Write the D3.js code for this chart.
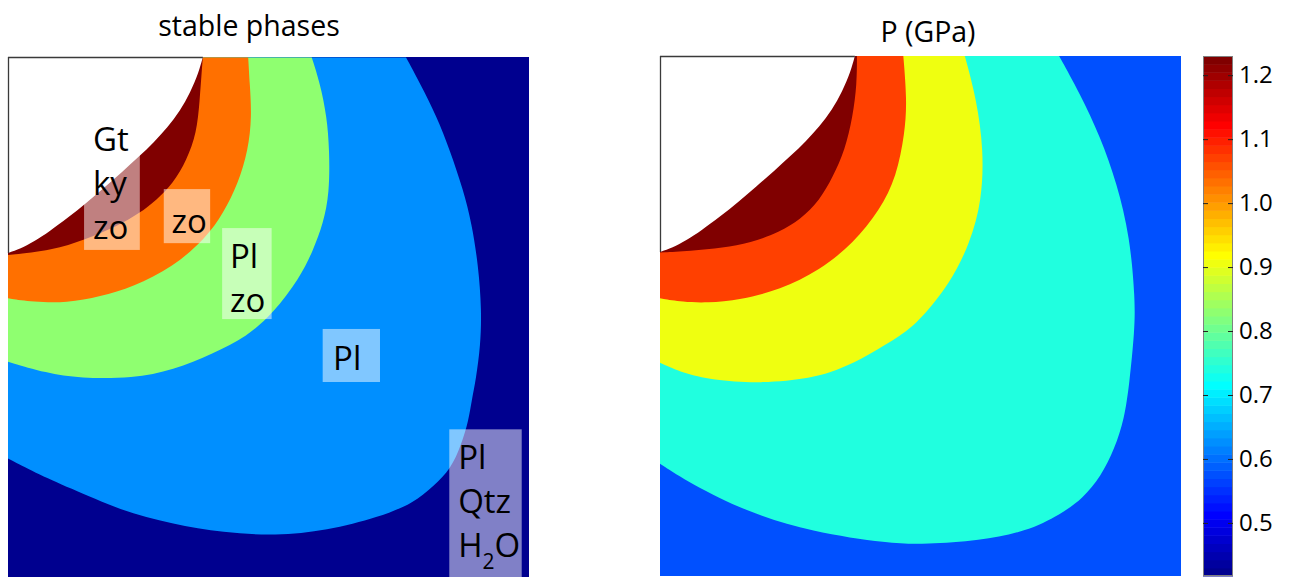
<!DOCTYPE html>
<html><head><meta charset="utf-8">
<script src="https://cdn.jsdelivr.net/npm/d3@7"></script>
<style>
body{margin:0;background:#fff;}
svg{display:block;font-family:"Open Sans","Noto Sans",sans-serif;}
</style>
</head><body>
<svg id="chart" width="1291" height="577"></svg>
<script>
// ---------- DATA (normalised plate coordinates: x to the right, y downward from the top edge, 0..1) ----------
const holeBoundary = [[0.374,0],[0.366,0.030],[0.350,0.068],[0.330,0.104],[0.306,0.136],[0.280,0.164],[0.252,0.191],[0.219,0.221],[0.185,0.251],[0.150,0.281],[0.115,0.309],[0.080,0.335],[0.050,0.355],[0.024,0.369],[0,0.377]];

// stable phases, listed from the outermost to the innermost
const phaseNames  = ["Pl Qtz H2O","Pl","Pl zo","zo","Gt ky zo"];
const phaseColors = ["#00008f","#008fff","#8fff70","#ff7000","#800000"];
// outer boundary of phases 1..4 (the region between the boundary and the hole)
const boundaryPl = [[0.764,0.001],[0.791,0.051],[0.823,0.115],[0.848,0.179],[0.874,0.256],[0.890,0.320],[0.903,0.403],[0.909,0.487],[0.907,0.554],[0.898,0.621],[0.890,0.660],[0.884,0.699],[0.870,0.746],[0.850,0.792],[0.817,0.825],[0.778,0.858],[0.712,0.885],[0.612,0.911],[0.513,0.921],[0.414,0.915],[0.315,0.898],[0.216,0.872],[0.117,0.828],[0.051,0.799],[0,0.772]];
const boundaryPlZo = [[0.583,0.001],[0.599,0.051],[0.612,0.115],[0.617,0.179],[0.617,0.262],[0.605,0.320],[0.586,0.371],[0.560,0.425],[0.509,0.493],[0.458,0.538],[0.394,0.570],[0.317,0.602],[0.240,0.618],[0.138,0.618],[0.074,0.608],[0,0.586]];
const boundaryZo = [[0.461,0.001],[0.464,0.051],[0.468,0.115],[0.461,0.179],[0.442,0.243],[0.413,0.301],[0.380,0.348],[0.317,0.404],[0.240,0.442],[0.177,0.461],[0.113,0.473],[0.048,0.471],[0,0.464]];
const boundaryGtKyZo = [[0.374,0],[0.372,0.025],[0.368,0.083],[0.362,0.147],[0.343,0.198],[0.317,0.243],[0.285,0.275],[0.253,0.300],[0.209,0.326],[0.145,0.352],[0.087,0.371],[0,0.381]];
const phaseBoundaries = [boundaryPl, boundaryPlZo, boundaryZo, boundaryGtKyZo];

// pressure bands (GPa), outermost to innermost
const pressureBandValues = [0.58, 0.74, 0.91, 1.07, 1.22];
const pBoundary074 = [[0.766,0],[0.806,0.072],[0.845,0.155],[0.877,0.245],[0.902,0.348],[0.912,0.469],[0.911,0.527],[0.901,0.630],[0.891,0.699],[0.873,0.754],[0.846,0.809],[0.812,0.850],[0.770,0.881],[0.702,0.915],[0.613,0.932],[0.510,0.939],[0.441,0.938],[0.290,0.915],[0.167,0.877],[0.058,0.822],[0,0.784]];
const pBoundary091 = [[0.585,0],[0.608,0.085],[0.621,0.181],[0.618,0.277],[0.595,0.360],[0.557,0.437],[0.499,0.508],[0.464,0.537],[0.400,0.575],[0.345,0.603],[0.291,0.620],[0.194,0.630],[0.099,0.623],[0.044,0.610],[0,0.590]];
const pBoundary107 = [[0.467,0],[0.474,0.085],[0.470,0.148],[0.454,0.232],[0.422,0.296],[0.371,0.360],[0.307,0.412],[0.230,0.450],[0.154,0.469],[0.090,0.475],[0.044,0.473],[0,0.466]];
const pBoundary122 = [[0.378,0],[0.378,0.053],[0.370,0.117],[0.355,0.181],[0.332,0.232],[0.307,0.277],[0.269,0.315],[0.230,0.338],[0.173,0.360],[0.121,0.369],[0.058,0.375],[0,0.378]];
const pressureBoundaries = [pBoundary074, pBoundary091, pBoundary107, pBoundary122];

const colorbarDomain = [0.417, 1.23];
const colorbarTicks  = [0.5, 0.6, 0.7, 0.8, 0.9, 1.0, 1.1, 1.2];

const titles = ["stable phases", "P (GPa)"];

// phase labels (anchor in plate coordinates)
const phaseLabels = [
  {lines:["Gt","ky","zo"],      tx:0.163, ty:0.181, box:[0.146,0.110,0.253,0.371]},
  {lines:["zo"],                tx:0.314, ty:0.338, box:[0.299,0.254,0.388,0.358]},
  {lines:["Pl","zo"],           tx:0.426, ty:0.406, box:[0.411,0.329,0.506,0.504]},
  {lines:["Pl"],                tx:0.624, ty:0.602, box:[0.604,0.523,0.714,0.625]},
  {lines:["Pl","Qtz","H_2O"],   tx:0.864, ty:0.792, box:[0.847,0.716,0.986,1.0]}
];

// ---------- DRAWING ----------
const svg = d3.select("#chart");

// Matlab-style jet(n)
function jet(n){
  const m = Math.ceil(n/4);
  const u = [];
  for(let i=1;i<=m;i++) u.push(i/m);
  for(let i=0;i<m-1;i++) u.push(1);
  for(let i=m;i>=1;i--) u.push(i/m);
  const off = Math.ceil(m/2) - (n%4===1?1:0);
  const R = new Array(n).fill(0), G = new Array(n).fill(0), B = new Array(n).fill(0);
  u.forEach((v,k)=>{
    const g = off + k + 1, r = g + m, b = g - m;
    if(g>=1 && g<=n) G[g-1]=v;
    if(r>=1 && r<=n) R[r-1]=v;
    if(b>=1 && b<=n) B[b-1]=v;
  });
  return d3.range(n).map(i=>d3.rgb(Math.round(R[i]*255),Math.round(G[i]*255),Math.round(B[i]*255)).formatHex());
}
const jet64 = jet(64);
const cmapIndex = v => Math.max(0, Math.min(63, Math.floor((v-colorbarDomain[0])/(colorbarDomain[1]-colorbarDomain[0])*64)));

function makePanel(id, x0, y0, w, h){
  const x = d3.scaleLinear().domain([0,1]).range([x0, x0+w]);
  const y = d3.scaleLinear().domain([0,1]).range([y0, y0+h]);
  svg.append("clipPath").attr("id", id).append("rect")
    .attr("x", x(0)).attr("y", y(0)).attr("width", x(1)-x(0)).attr("height", y(1)-y(0));
  const g = svg.append("g").attr("clip-path", `url(#${id})`);
  const line = d3.line().x(d=>x(d[0])).y(d=>y(d[1])).curve(d3.curveBasis);
  const region = pts => line(pts) + `L${x(0)},${y(0)}Z`;
  return {x, y, g, region};
}

function drawPanelFrame(p){
  p.g.append("path").attr("d", p.region(holeBoundary)).attr("fill", "#fff");
  const s = svg.append("g").attr("stroke", "#3a3a3a").attr("stroke-width", 1.3).attr("fill","none");
  s.append("line").attr("x1", p.x(0)).attr("x2", p.x(holeBoundary[0][0])).attr("y1", p.y(0)+0.5).attr("y2", p.y(0)+0.5);
  s.append("line").attr("x1", p.x(0)+0.5).attr("x2", p.x(0)+0.5).attr("y1", p.y(0)).attr("y2", p.y(holeBoundary[holeBoundary.length-1][1]));
}

// ----- left panel: stable phases -----
const L = makePanel("clipL", 8, 57, 521, 520);
L.g.append("rect").attr("x", L.x(0)).attr("y", L.y(0)).attr("width", L.x(1)-L.x(0)).attr("height", L.y(1)-L.y(0))
  .attr("fill", phaseColors[0]);
L.g.selectAll("path.phase").data(phaseBoundaries).join("path").attr("class","phase")
  .attr("d", d=>L.region(d)).attr("fill", (d,i)=>phaseColors[i+1]);
drawPanelFrame(L);

// labels
const lineStep = 44;
const lab = L.g.append("g").attr("class","labels");
phaseLabels.forEach(lb=>{
  lab.append("rect")
    .attr("x", L.x(lb.box[0])).attr("y", L.y(lb.box[1]))
    .attr("width", L.x(lb.box[2])-L.x(lb.box[0])).attr("height", L.y(lb.box[3])-L.y(lb.box[1]))
    .attr("fill", "#fff").attr("fill-opacity", 0.5);
  lb.lines.forEach((t,i)=>{
    const tx = lab.append("text").attr("x", L.x(lb.tx)).attr("y", L.y(lb.ty)+i*lineStep)
      .attr("font-size", 33).attr("fill", "#000");
    if(t.includes("_")){
      const [a,b] = t.split("_");
      tx.append("tspan").text(a);
      tx.append("tspan").attr("font-size", 21).attr("dy", 12).text(b[0]);
      tx.append("tspan").attr("dy", -12).text(b.slice(1));
    } else tx.text(t);
  });
});

// ----- right panel: pressure -----
const R = makePanel("clipR", 660, 56, 521, 520);
const bandColor = v => jet64[cmapIndex(v)];
R.g.append("rect").attr("x", R.x(0)).attr("y", R.y(0)).attr("width", R.x(1)-R.x(0)).attr("height", R.y(1)-R.y(0))
  .attr("fill", bandColor(pressureBandValues[0]));
R.g.selectAll("path.band").data(pressureBoundaries).join("path").attr("class","band")
  .attr("d", d=>R.region(d)).attr("fill", (d,i)=>bandColor(pressureBandValues[i+1]));
drawPanelFrame(R);

// ----- colorbar -----
const cbX0 = 1203, cbX1 = 1233;
const cbY = d3.scaleLinear().domain(colorbarDomain).range([576, 56]);
const step = (colorbarDomain[1]-colorbarDomain[0])/64;
svg.append("g").selectAll("rect").data(jet64).join("rect")
  .attr("x", cbX0).attr("width", cbX1-cbX0)
  .attr("y", (c,i)=>cbY(colorbarDomain[0]+(i+1)*step))
  .attr("height", (c,i)=>cbY(colorbarDomain[0]+i*step)-cbY(colorbarDomain[0]+(i+1)*step)+0.5)
  .attr("fill", c=>c);
svg.append("rect").attr("x", cbX0+0.5).attr("y", cbY.range()[1]+0.5).attr("width", cbX1-cbX0-1)
  .attr("height", cbY.range()[0]-cbY.range()[1]-1).attr("fill","none").attr("stroke","#808080").attr("stroke-width",1);
const axR = svg.append("g").attr("transform", `translate(${cbX1},0)`)
  .call(d3.axisRight(cbY).tickValues(colorbarTicks).tickSize(-5).tickPadding(6).tickFormat(d3.format(".1f")));
axR.select(".domain").remove();
axR.selectAll("text").attr("font-size", 24).attr("font-family", '"Open Sans",sans-serif').attr("fill","#000");
axR.selectAll("line").attr("stroke","#222");
const axL = svg.append("g").attr("transform", `translate(${cbX0},0)`)
  .call(d3.axisLeft(cbY).tickValues(colorbarTicks).tickSize(-5).tickFormat(""));
axL.select(".domain").remove();
axL.selectAll("line").attr("stroke","#222");

// ----- titles -----
svg.append("text").attr("x", L.x(0.4626)).attr("y", L.y(0)-21).attr("text-anchor","middle")
  .attr("font-size", 28.5).attr("fill","#000").text(titles[0]);
svg.append("text").attr("x", R.x(0.5144)).attr("y", R.y(0)-14).attr("text-anchor","middle")
  .attr("font-size", 28.5).attr("fill","#000").text(titles[1]);
</script>
</body></html>
